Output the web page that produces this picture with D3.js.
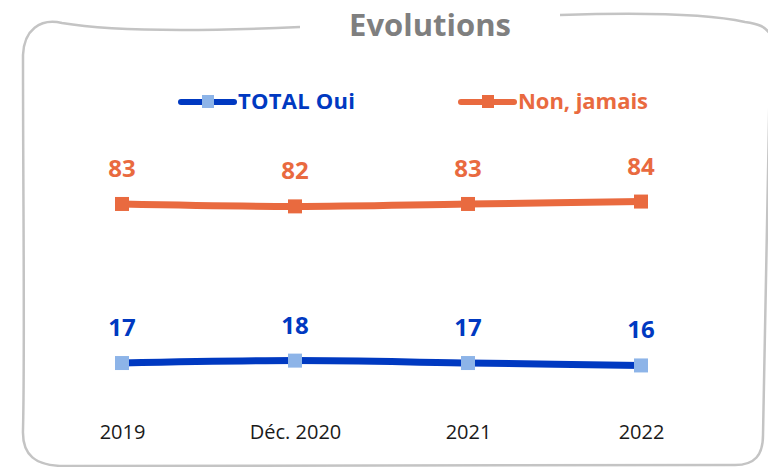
<!DOCTYPE html>
<html>
<head>
<meta charset="utf-8">
<script src="https://cdn.jsdelivr.net/npm/d3@7"></script>
<style>
  body { margin: 0; background: #fff; }
  svg { display: block; }
</style>
</head>
<body>
<svg width="768" height="467"></svg>
<script>
var svg = d3.select('svg');

// data
const periods = ["2019", "Déc. 2020", "2021", "2022"];
const totalOui = [17, 18, 17, 16];
const nonJamais = [83, 82, 83, 84];

const blue = "#0039c1";
const blueMarker = "#8db4e8";
const orange = "#e96a3f";

var xScale = d3.scalePoint()
    .domain(periods)
    .range([122, 641]);

var yScale = d3.scaleLinear()
    .domain([0, 100])
    .range([404, 163]);

// hand drawn frame, broken at the top for the title
var frame = d3.path();
frame.moveTo(300, 27);
frame.bezierCurveTo(230, 30, 120, 33, 62, 23);
frame.bezierCurveTo(40, 18, 24, 30, 23, 55);
frame.bezierCurveTo(23, 200, 25, 350, 23, 430);
frame.bezierCurveTo(22, 455, 35, 466, 65, 466);
frame.lineTo(735, 465);
frame.bezierCurveTo(755, 465, 763, 455, 763, 435);
frame.bezierCurveTo(764, 350, 768, 200, 770, 60);
svg.append("path")
    .attr("d", frame.toString())
    .attr("fill", "none")
    .attr("stroke", "#c4c4c4")
    .attr("stroke-width", 2.5);

var frame2 = d3.path();
frame2.moveTo(560, 15);
frame2.bezierCurveTo(620, 13, 700, 12, 745, 22);
frame2.bezierCurveTo(758, 24, 765, 26, 770, 34);
svg.append("path")
    .attr("d", frame2.toString())
    .attr("fill", "none")
    .attr("stroke", "#c4c4c4")
    .attr("stroke-width", 2.5);

svg.append("text")
    .attr("x", 430)
    .attr("y", 36)
    .attr("text-anchor", "middle")
    .style("font-family", "'Open Sans', sans-serif")
    .style("font-weight", "bold")
    .style("font-size", "31px")
    .style("fill", "#7f7f7f")
    .text("Evolutions");

// legend
const legend = [
    {name: "TOTAL Oui", color: blue, marker: blueMarker, x: 178, width: 117},
    {name: "Non, jamais", color: orange, marker: orange, x: 458, width: 130}
];
legend.forEach(l => {
    svg.append("line")
        .attr("x1", l.x + 3).attr("x2", l.x + 56)
        .attr("y1", 102).attr("y2", 102)
        .attr("stroke", l.color)
        .attr("stroke-width", 6)
        .attr("stroke-linecap", "round");
    svg.append("rect")
        .attr("x", l.x + 24).attr("y", 95)
        .attr("width", 12).attr("height", 13)
        .style("fill", l.marker);
    svg.append("text")
        .attr("x", l.x + 60)
        .attr("y", 109)
        .attr("textLength", l.width)
        .style("font-family", "'Open Sans', sans-serif")
        .style("font-weight", "bold")
        .style("font-size", "22px")
        .style("fill", l.color)
        .text(l.name);
});

// axis labels
var xAxis = d3.axisBottom(xScale).tickSize(0).tickPadding(0);
svg.append("g")
    .attr("transform", "translate(0, 425)")
    .call(xAxis)
    .call(g => g.select(".domain").remove())
    .selectAll("text")
    .style("font-family", "'Open Sans', sans-serif")
    .style("font-size", "20px")
    .style("fill", "#1a1a1a");

const series = [
    {values: nonJamais, color: orange, marker: orange},
    {values: totalOui, color: blue, marker: blueMarker}
];

var line = d3.line()
    .x((d, i) => xScale(periods[i]))
    .y(d => yScale(d))
    .curve(d3.curveMonotoneX);

series.forEach(s => {
    svg.append("path")
        .datum(s.values)
        .attr("d", line)
        .attr("fill", "none")
        .attr("stroke", s.color)
        .attr("stroke-width", 7);

    svg.selectAll(null)
        .data(s.values)
        .enter()
        .append("rect")
        .attr("x", (d, i) => xScale(periods[i]) - 7)
        .attr("y", d => yScale(d) - 7)
        .attr("width", 14)
        .attr("height", 14)
        .style("fill", s.marker);

    svg.selectAll(null)
        .data(s.values)
        .enter()
        .append("text")
        .attr("x", (d, i) => xScale(periods[i]))
        .attr("y", d => yScale(d) - 27)
        .attr("text-anchor", "middle")
        .style("font-family", "'Open Sans', sans-serif")
        .style("font-weight", "bold")
        .style("font-size", "24px")
        .style("fill", s.color)
        .text(d => d);
});
</script>
</body>
</html>
